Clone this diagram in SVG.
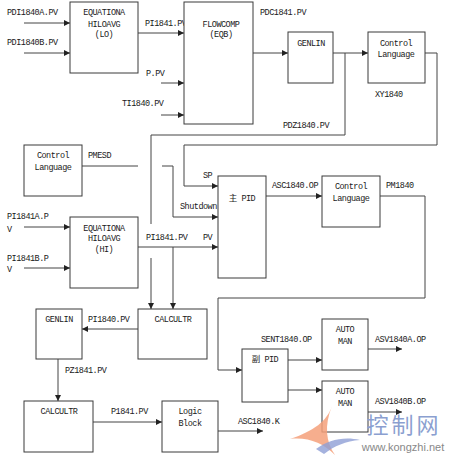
<svg xmlns="http://www.w3.org/2000/svg" width="450" height="455" viewBox="0 0 450 455">
<defs>
<marker id="ah" markerUnits="userSpaceOnUse" markerWidth="6" markerHeight="6" refX="6" refY="3" orient="auto">
<path d="M0,0 L6,3 L0,6 z" fill="#222"/>
</marker>
<style>
.box{fill:#fff;stroke:#3a3a3a;stroke-width:1}
.ln{fill:none;stroke:#444;stroke-width:1}
.ar{fill:none;stroke:#444;stroke-width:1;marker-end:url(#ah)}
text{font-family:"Liberation Mono","Noto Sans CJK SC",monospace;font-size:8.5px;letter-spacing:-0.5px;fill:#1a1a1a}
.c{text-anchor:middle}
</style>
</defs>
<rect width="450" height="455" fill="#fff"/>

<g id="connectors">
<line class="ar" x1="24" y1="23" x2="70" y2="23"/>
<line class="ar" x1="24" y1="53" x2="70" y2="53"/>
<line class="ar" x1="138" y1="33" x2="184" y2="33"/>
<line class="ar" x1="161" y1="83" x2="184" y2="83"/>
<line class="ar" x1="161" y1="115" x2="184" y2="115"/>
<line class="ar" x1="253" y1="53" x2="288" y2="53"/>
<line class="ar" x1="333" y1="53" x2="368" y2="53"/>
<polyline class="ln" points="345,53 345,135 151,135 151,224"/>
<line class="ar" x1="151" y1="258" x2="151" y2="309"/>
<polyline class="ar" points="425,53 437,53 437,145 184,145 184,186 218,186"/>
<line class="ln" x1="82" y1="166" x2="138" y2="166"/>
<polyline class="ar" points="162,166 173,166 173,217 218,217"/>
<line class="ar" x1="24" y1="227" x2="70" y2="227"/>
<line class="ar" x1="24" y1="268" x2="70" y2="268"/>
<line class="ar" x1="138" y1="247" x2="218" y2="247"/>
<line class="ar" x1="173" y1="247" x2="173" y2="309"/>
<line class="ar" x1="266" y1="196" x2="322" y2="196"/>
<polyline class="ar" points="380,196 425,196 425,298 218,298 218,370 242,370"/>
<line class="ar" x1="138" y1="329" x2="82" y2="329"/>
<line class="ar" x1="58" y1="359" x2="58" y2="401"/>
<line class="ar" x1="93" y1="422" x2="162" y2="422"/>
<line class="ar" x1="218" y1="431" x2="263" y2="431"/>
<line class="ar" x1="288" y1="360" x2="322" y2="360"/>
<line class="ar" x1="288" y1="390" x2="322" y2="390"/>
<line class="ar" x1="368" y1="349" x2="402" y2="349"/>
<line class="ar" x1="368" y1="412" x2="402" y2="412"/>
</g>

<g id="labels">
<text x="7" y="15">PDI1840A.PV</text>
<text x="7" y="45">PDI1840B.PV</text>
<text x="145" y="26">PI1841.PV</text>
<text x="146" y="76">P.PV</text>
<text x="122" y="106">TI1840.PV</text>
<text x="260" y="15">PDC1841.PV</text>
<text x="375" y="97">XY1840</text>
<text x="283" y="128">PDZ1840.PV</text>
<text x="88" y="158">PMESD</text>
<text x="203" y="178">SP</text>
<text x="180" y="209">Shutdown</text>
<text x="7" y="219">PI1841A.P</text>
<text x="7" y="232">V</text>
<text x="7" y="261">PI1841B.P</text>
<text x="7" y="272">V</text>
<text x="146" y="240">PI1841.PV</text>
<text x="203" y="240">PV</text>
<text x="272" y="188">ASC1840.OP</text>
<text x="386" y="188">PM1840</text>
<text x="88" y="322">PI1840.PV</text>
<text x="65" y="373">PZ1841.PV</text>
<text x="111" y="414">P1841.PV</text>
<text x="238" y="424">ASC1840.K</text>
<text x="261" y="342">SENT1840.OP</text>
<text x="375" y="342">ASV1840A.OP</text>
<text x="375" y="404">ASV1840B.OP</text>
</g>

<g id="eq-lo"><rect class="box" x="70" y="2" width="68" height="71"/>
<text class="c" x="104" y="15">EQUATIONA</text><text class="c" x="104" y="27">HILOAVG</text><text class="c" x="104" y="37">(LO)</text></g>
<g id="flowcomp"><rect class="box" x="184" y="2" width="69" height="122"/>
<text class="c" x="221" y="27">FLOWCOMP</text><text class="c" x="221" y="37">(EQB)</text></g>
<g id="genlin-top"><rect class="box" x="288" y="32" width="45" height="51"/>
<text class="c" x="311" y="46">GENLIN</text></g>
<g id="cl-top"><rect class="box" x="368" y="32" width="57" height="51"/>
<text class="c" x="396" y="46">Control</text><text class="c" x="396" y="57">Language</text></g>
<g id="cl-left"><rect class="box" x="24" y="145" width="58" height="51"/>
<text class="c" x="53" y="158">Control</text><text class="c" x="53" y="170">Language</text></g>
<g id="eq-hi"><rect class="box" x="70" y="217" width="68" height="71"/>
<text class="c" x="104" y="231">EQUATIONA</text><text class="c" x="104" y="241">HILOAVG</text><text class="c" x="104" y="252">(HI)</text></g>
<g id="main-pid"><rect class="box" x="218" y="176" width="48" height="102"/>
<text class="c" x="242" y="201">主 PID</text></g>
<g id="cl-mid"><rect class="box" x="322" y="176" width="58" height="51"/>
<text class="c" x="351" y="189">Control</text><text class="c" x="351" y="201">Language</text></g>
<g id="genlin-low"><rect class="box" x="36" y="309" width="46" height="50"/>
<text class="c" x="59" y="322">GENLIN</text></g>
<g id="calc-mid"><rect class="box" x="138" y="309" width="69" height="50"/>
<text class="c" x="173" y="322">CALCULTR</text></g>
<g id="calc-low"><rect class="box" x="24" y="401" width="69" height="51"/>
<text class="c" x="59" y="414">CALCULTR</text></g>
<g id="logic"><rect class="box" x="162" y="401" width="56" height="51"/>
<text class="c" x="190" y="414">Logic</text><text class="c" x="190" y="426">Block</text></g>
<g id="sub-pid"><rect class="box" x="242" y="349" width="46" height="53"/>
<text class="c" x="265" y="362">副 PID</text></g>
<g id="auto-a"><rect class="box" x="322" y="319" width="46" height="51"/>
<text class="c" x="345" y="332">AUTO</text><text class="c" x="345" y="344">MAN</text></g>
<g id="auto-b"><rect class="box" x="322" y="381" width="46" height="51"/>
<text class="c" x="345" y="394">AUTO</text><text class="c" x="345" y="406">MAN</text></g>

<g id="watermark">
<path d="M332,406 C327,421 314,431 290,439 C308,437 323,443 335,455 C326,442 324,426 332,406 z" fill="#f5a07a" opacity="0.85"/>
<path d="M316,449 C328,440 344,436 360,440 C346,441 334,446 324,454 z" fill="#8f9fd6" opacity="0.8"/>
<text x="404" y="433" class="c" style="font-family:'Noto Sans CJK SC',sans-serif;font-size:22px;letter-spacing:3px;fill:#8b9fd0">控制网</text>
<text x="403" y="451" class="c" style="font-family:'Liberation Sans',sans-serif;font-size:11px;letter-spacing:0;fill:#888">www.kongzhi.net</text>
</g>
</svg>
